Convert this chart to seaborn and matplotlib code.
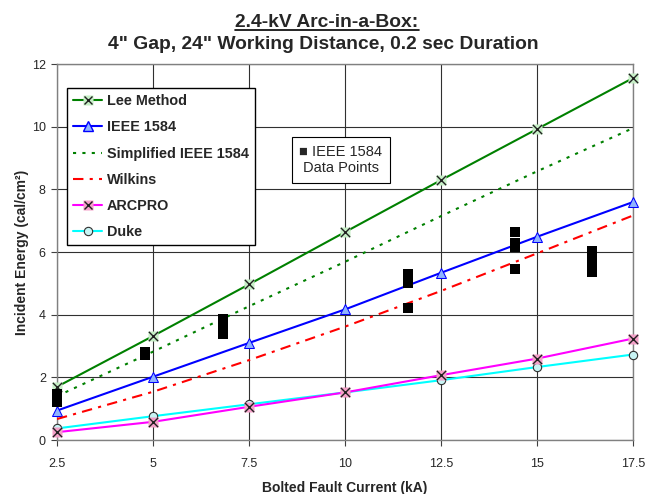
import matplotlib
matplotlib.use('Agg')
import matplotlib.pyplot as plt
import seaborn as sns
from matplotlib.lines import Line2D
from matplotlib.legend_handler import HandlerTuple

# bolted fault current (kA) at which each method was evaluated
current = [2.5, 5, 7.5, 10, 12.5, 15, 17.5]
lee = [1.7, 3.32, 4.97, 6.64, 8.3, 9.93, 11.56]
ieee = [0.94, 2.02, 3.1, 4.17, 5.34, 6.49, 7.6]
simplified = [1.4, 2.82, 4.27, 5.69, 7.15, 8.58, 9.96]
wilkins = [0.67, 1.54, 2.55, 3.62, 4.76, 5.96, 7.17]
arcpro = [0.25, 0.58, 1.06, 1.52, 2.07, 2.6, 3.24]
duke = [0.37, 0.76, 1.14, 1.52, 1.91, 2.33, 2.73]

# IEEE 1584 test data points
test_current = [2.5, 2.5, 2.5, 2.5, 4.79, 4.79, 6.81, 6.81, 6.81,
                11.64, 11.64, 11.64, 11.64, 14.43, 14.43, 14.43, 14.43,
                16.42, 16.42, 16.42, 16.42]
test_energy = [1.2, 1.3, 1.4, 1.47, 2.7, 2.8, 3.85, 3.55, 3.4,
               5.3, 5.15, 5.0, 4.2, 6.65, 6.3, 6.15, 5.45,
               6.05, 5.85, 5.7, 5.38]

xticks = [2.5, 5, 7.5, 10, 12.5, 15, 17.5]
xticklabels = ['2.5', '5', '7.5', '10', '12.5', '15', '17.5']

sns.set_style('white')
plt.rcParams['font.family'] = ['Liberation Sans', 'DejaVu Sans']

fig = plt.figure(figsize=(6.46, 4.94), dpi=100)
ax = fig.add_axes([0.0882, 0.1093, 0.8918, 0.7607])

lw = 1.5
# Lee method
sns.lineplot(x=current, y=lee, ax=ax, color='#008000', lw=lw, marker='s', ms=7,
             mfc='#c6efc6', mec='none', legend=False, clip_on=False, zorder=3)
sns.scatterplot(x=current, y=lee, ax=ax, marker='x', color='#202020', s=45,
                linewidth=1, zorder=4, clip_on=False)
# IEEE 1584
sns.lineplot(x=current, y=ieee, ax=ax, color='#0000ff', lw=lw, marker='^', ms=7,
             mfc='#8fb4ff', mec='#0000ff', legend=False, clip_on=False, zorder=3)
# Simplified
sns.lineplot(x=current, y=simplified, ax=ax, color='#008000', lw=lw,
             ls=(0, (1.5, 3)), legend=False, zorder=3)
# Wilkins
sns.lineplot(x=current, y=wilkins, ax=ax, color='#ff0000', lw=lw,
             ls=(0, (5, 3, 1.5, 3)), legend=False, zorder=3)
# Duke
sns.lineplot(x=current, y=duke, ax=ax, color='#00ffff', lw=lw, marker='o', ms=6,
             mfc='#c8f4f4', mec='#303030', mew=0.8, legend=False,
             clip_on=False, zorder=3)
# ARCPRO
sns.lineplot(x=current, y=arcpro, ax=ax, color='#ff00ff', lw=lw, marker='s', ms=7,
             mfc='#f4a0c8', mec='none', legend=False, clip_on=False, zorder=3)
sns.scatterplot(x=current, y=arcpro, ax=ax, marker='x', color='#202020', s=45,
                linewidth=1, zorder=4, clip_on=False)
# test data
sns.scatterplot(x=test_current, y=test_energy, ax=ax, marker='s', color='black',
                s=50, linewidth=0, zorder=5, clip_on=False)

ax.set_xlim(2.5, 17.5)
ax.set_ylim(0, 12)
ax.set_xticks(xticks)
ax.set_xticklabels(xticklabels)
ax.set_yticks(range(0, 13, 2))
ax.tick_params(axis='both', direction='out', length=4, width=0.8, labelsize=9,
               color='#404040', bottom=True, left=True)
ax.tick_params(axis='x', pad=9)
ax.tick_params(axis='y', pad=4)
ax.grid(True, color='#303030', lw=0.8)
for s in ax.spines.values():
    s.set_color('#808080')
    s.set_linewidth(1)
ax.set_xlabel('Bolted Fault Current (kA)', fontsize=10, fontweight='bold', labelpad=8)
ax.set_ylabel('Incident Energy (cal/cm²)', fontsize=10, fontweight='bold', labelpad=2)

# legend
h_lee = (Line2D([], [], color='#008000', lw=lw),
         Line2D([], [], ls='', marker='s', ms=7, mfc='#c6efc6', mec='none'),
         Line2D([], [], ls='', marker='x', ms=6, mec='#202020', mew=1))
h_ieee = Line2D([], [], color='#0000ff', lw=lw, marker='^', ms=7, mfc='#8fb4ff', mec='#0000ff')
h_simp = Line2D([], [], color='#008000', lw=lw, ls=(0, (1.5, 3)))
h_wil = Line2D([], [], color='#ff0000', lw=lw, ls=(0, (5, 3, 1.5, 3)))
h_arc = (Line2D([], [], color='#ff00ff', lw=lw),
         Line2D([], [], ls='', marker='s', ms=7, mfc='#f4a0c8', mec='none'),
         Line2D([], [], ls='', marker='x', ms=6, mec='#202020', mew=1))
h_duke = Line2D([], [], color='#00ffff', lw=lw, marker='o', ms=6, mfc='#c8f4f4',
                mec='#303030', mew=0.8)
leg = ax.legend([h_lee, h_ieee, h_simp, h_wil, h_arc, h_duke],
                ['Lee Method', 'IEEE 1584', 'Simplified IEEE 1584', 'Wilkins', 'ARCPRO', 'Duke'],
                handler_map={tuple: HandlerTuple(ndivide=1)},
                loc='upper left', bbox_to_anchor=(0.017, 0.936), borderaxespad=0,
                fancybox=False, framealpha=1, edgecolor='black',
                prop={'weight': 'bold', 'size': 10.4},
                handlelength=2.05, labelspacing=0.84, borderpad=0.42, handletextpad=0.3)
leg.get_frame().set_linewidth(1)

ax.text(0.493, 0.745, '■ IEEE 1584\nData Points', transform=ax.transAxes,
        ha='center', va='center', fontsize=10.5, linespacing=1.25, zorder=6,
        bbox=dict(boxstyle='square,pad=0.5', fc='white', ec='black', lw=0.8))

t1 = fig.text(0.506, 0.955, '2.4-kV Arc-in-a-Box:', ha='center', va='center',
              fontsize=13.9, fontweight='bold')
fig.text(0.5, 0.909, '4" Gap, 24" Working Distance, 0.2 sec Duration', ha='center',
         va='center', fontsize=13.9, fontweight='bold')

# underline the first title line
fig.canvas.draw()
bb = t1.get_window_extent().transformed(fig.transFigure.inverted())
fig.add_artist(Line2D([bb.x0, bb.x1], [bb.y0 + 0.002, bb.y0 + 0.002],
                      transform=fig.transFigure, color='black', lw=1.2))

fig.savefig('out.png', dpi=100)
